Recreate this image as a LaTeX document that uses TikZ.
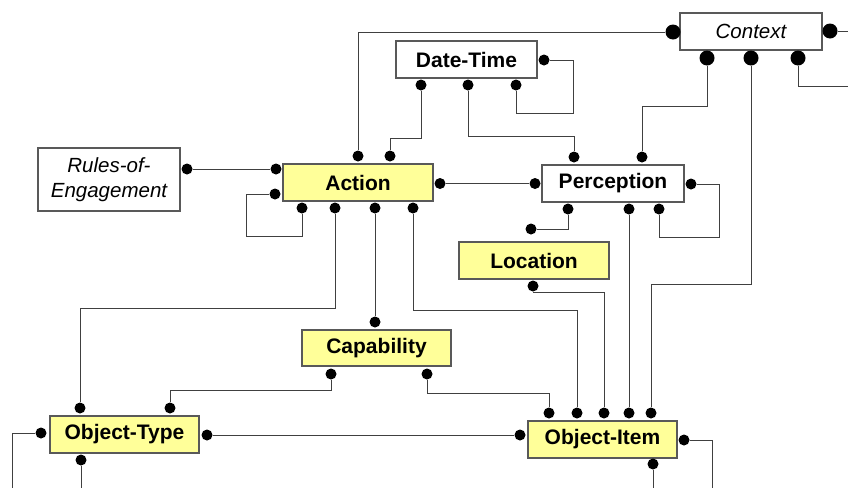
\documentclass[tikz,border=0pt]{standalone}
\usepackage{fontspec}
\setmainfont{Liberation Sans}
\begin{document}
\begin{tikzpicture}[x=1pt,y=-1pt,
  entity/.style={draw=black!65,line width=1.1pt,inner sep=0pt,align=center,
    font=\fontsize{21}{23}\selectfont\bfseries},
  kernel/.style={entity,fill={rgb,255:red,255;green,255;blue,153}},
  plain/.style={entity,fill=white},
  abstract/.style={entity,fill=white,font=\fontsize{20.5}{25}\selectfont\itshape},
  pin/.style={circle,fill=black,inner sep=0pt,minimum size=11pt},
  bigpin/.style={circle,fill=black,inner sep=0pt,minimum size=15pt},
  link/.style={draw=black!75,line width=0.9pt}]
\useasboundingbox (0,0) rectangle (848,488);

% entities
\node[abstract,minimum width=142pt,minimum height=63pt] (roe) at (109,179.5) {Rules-of-\\Engagement};
\node[kernel,minimum width=150pt,minimum height=37pt] (action) at (358,182.5) {Action};
\node[plain,minimum width=141pt,minimum height=37pt] (datetime) at (466.5,59.5) {Date-Time};
\node[abstract,minimum width=142pt,minimum height=37pt] (context) at (751,31.5) {Context};
\node[plain,minimum width=142pt,minimum height=37pt] (perception) at (613,183.5) {Perception};
\node[kernel,minimum width=150pt,minimum height=37pt] (location) at (534,260.5) {Location};
\node[kernel,minimum width=149pt,minimum height=36pt] (capability) at (376.5,348) {Capability};
\node[kernel,minimum width=149pt,minimum height=37pt] (objtype) at (124.5,434.5) {Object-Type};
\node[kernel,minimum width=149pt,minimum height=37pt] (objitem) at (602.5,439.5) {Object-Item};

% relationship ends
\node[bigpin] (ctxL) at (673,32) {};
\node[bigpin] (ctxR) at (830,31) {};
\node[bigpin] (ctxB1) at (707,58) {};
\node[bigpin] (ctxB2) at (751,58) {};
\node[bigpin] (ctxB3) at (798,58) {};

\node[pin] (actT1) at (358,156) {};
\node[pin] (actT2) at (390,156) {};
\node[pin] (actL1) at (276,169) {};
\node[pin] (actL2) at (275,194) {};
\node[pin] (actB1) at (302,208) {};
\node[pin] (actB2) at (335,208) {};
\node[pin] (actB3) at (375,208) {};
\node[pin] (actB4) at (413,208) {};
\node[pin] (actR) at (440,183.5) {};

\node[pin] (dtB1) at (421,85) {};
\node[pin] (dtB2) at (468,85) {};
\node[pin] (dtB3) at (516,85) {};
\node[pin] (dtR) at (544,60) {};

\node[pin] (perT1) at (574,157) {};
\node[pin] (perT2) at (642,157) {};
\node[pin] (perL) at (535,183.5) {};
\node[pin] (perR) at (691,184) {};
\node[pin] (perB1) at (568,209) {};
\node[pin] (perB2) at (629,209) {};
\node[pin] (perB3) at (659,209) {};

\node[pin] (roeR) at (187,169) {};
\node[pin] (locT) at (531,229) {};
\node[pin] (locB) at (533,286) {};

\node[pin] (capT) at (375,322) {};
\node[pin] (capB1) at (331,374) {};
\node[pin] (capB2) at (427,374) {};

\node[pin] (otT1) at (80,408) {};
\node[pin] (otT2) at (170,408) {};
\node[pin] (otL) at (41,433) {};
\node[pin] (otR) at (207,435) {};
\node[pin] (otB) at (81,460) {};

\node[pin] (oiT1) at (549,413) {};
\node[pin] (oiT2) at (577,413) {};
\node[pin] (oiT3) at (604,413) {};
\node[pin] (oiT4) at (629,413) {};
\node[pin] (oiT5) at (651,413) {};
\node[pin] (oiL) at (520,435) {};
\node[pin] (oiR) at (684,440) {};
\node[pin] (oiB) at (653,464) {};

% free ends at the picture's edges
\coordinate (eCtxR) at (848,31);
\coordinate (eCtxB) at (848,86);
\coordinate (eOtL) at (12,488);
\coordinate (eOtB) at (81,488);
\coordinate (eOiR) at (712,488);
\coordinate (eOiB) at (653,488);

% relationships
\path[link] (ctxL) -| (actT1);
\path[link] (dtB1) -- (421,138) -| (actT2);
\path[link] (dtB2) -- (468,136) -| (perT1);
\path[link] (dtB3) -- (516,113) -- (573,113) |- (dtR);
\path[link] (ctxB1) -- (707,106) -| (perT2);
\path[link] (ctxB2) -- (751,284) -| (oiT5);
\path[link] (ctxB3) |- (eCtxB);
\path[link] (ctxR) -- (eCtxR);
\path[link] (roeR) -- (actL1);
\path[link] (actL2) -- (246,194) -- (246,236) -| (actB1);
\path[link] (actB2) -- (335,308) -| (otT1);
\path[link] (actB3) -- (capT);
\path[link] (actB4) -- (413,310) -| (oiT2);
\path[link] (actR) -- (perL);
\path[link] (perB1) |- (locT);
\path[link] (perB2) -- (oiT4);
\path[link] (perB3) -- (659,237) -- (719,237) |- (perR);
\path[link] (locB) -- (533,292) -| (oiT3);
\path[link] (capB1) -- (331,390) -| (otT2);
\path[link] (capB2) -- (427,393) -| (oiT1);
\path[link] (otR) -- (oiL);
\path[link] (otL) -| (eOtL);
\path[link] (otB) -- (eOtB);
\path[link] (oiR) -| (eOiR);
\path[link] (oiB) -- (eOiB);
\end{tikzpicture}
\end{document}
